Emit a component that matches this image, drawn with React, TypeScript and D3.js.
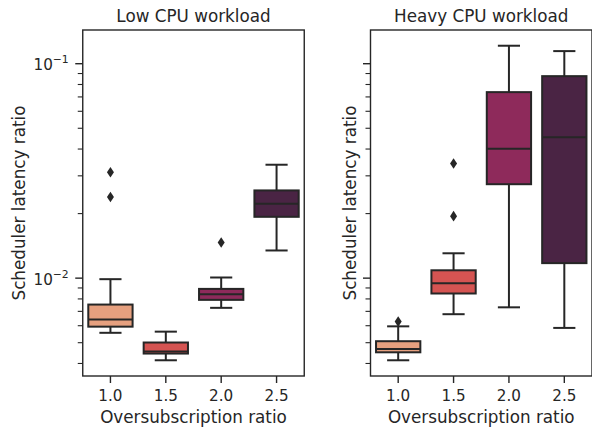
import React from "react";
import * as d3 from "d3";

const categories = ["1.0", "1.5", "2.0", "2.5"];
const palette = ["#E6A07F", "#D55452", "#8E2A5B", "#4A2444"];

// Low CPU workload
const lowWhiskerLo = [0.00556, 0.00414, 0.00727, 0.01346];
const lowQ1 = [0.00594, 0.00445, 0.00792, 0.01932];
const lowMedian = [0.00641, 0.004545, 0.00841, 0.02223];
const lowQ3 = [0.00753, 0.00501, 0.00891, 0.02565];
const lowWhiskerHi = [0.00989, 0.00563, 0.01007, 0.0338];
const lowOutliers = [[0.0312, 0.0239], [], [0.01466], []];

// Heavy CPU workload
const heavyWhiskerLo = [0.00414, 0.00679, 0.00731, 0.00586];
const heavyQ1 = [0.00451, 0.00848, 0.02742, 0.01175];
const heavyMedian = [0.004677, 0.00947, 0.0401, 0.04545];
const heavyQ3 = [0.00508, 0.01088, 0.0737, 0.0875];
const heavyWhiskerHi = [0.00596, 0.01306, 0.1213, 0.1145];
const heavyOutliers = [[0.00627], [0.03425, 0.01946], [], []];

const titles = ["Low CPU workload", "Heavy CPU workload"];
const xLabel = "Oversubscription ratio";
const yLabel = "Scheduler latency ratio";
const majorTicks = [0.01, 0.1];
const majorTickExp = ["−2", "−1"];

const W = 592;
const H = 428;
const TOP = 30;
const BOTTOM = 376;
const INK = "#262626";
const FONT = "DejaVu Sans, sans-serif";
const LABEL_FS = 16.8;
const TICK_FS = 15.2;

type Panel = {
  x0: number;
  x1: number;
  title: string;
  lo: number[];
  q1: number[];
  med: number[];
  q3: number[];
  hi: number[];
  out: number[][];
  showYTickLabels: boolean;
  yLabelX: number;
};

const panels: Panel[] = [
  { x0: 82.75, x1: 304.25, title: titles[0], lo: lowWhiskerLo, q1: lowQ1, med: lowMedian, q3: lowQ3, hi: lowWhiskerHi, out: lowOutliers, showYTickLabels: true, yLabelX: 24.5 },
  { x0: 370.5, x1: 592, title: titles[1], lo: heavyWhiskerLo, q1: heavyQ1, med: heavyMedian, q3: heavyQ3, hi: heavyWhiskerHi, out: heavyOutliers, showYTickLabels: false, yLabelX: 356 },
];

// shared y domain, matplotlib-style 5% margin in log space
const allVals = [
  ...lowWhiskerLo, ...lowWhiskerHi, ...lowOutliers.flat(),
  ...heavyWhiskerLo, ...heavyWhiskerHi, ...heavyOutliers.flat(),
];
const lmin = Math.log10(d3.min(allVals)!);
const lmax = Math.log10(d3.max(allVals)!);
const pad = (lmax - lmin) * 0.05;
const y = d3.scaleLog().domain([10 ** (lmin - pad), 10 ** (lmax + pad)]).range([BOTTOM, TOP]);

const minorTicks: number[] = [];
for (const dec of [0.001, 0.01]) {
  for (let k = 2; k <= 9; k++) {
    const v = k * dec;
    if (v >= y.domain()[0] && v <= y.domain()[1]) minorTicks.push(v);
  }
}

function PanelView({ p }: { p: Panel }) {
  const x = d3.scaleBand().domain(categories).range([p.x0, p.x1]).paddingInner(0).paddingOuter(0);
  const bw = x.bandwidth();
  const boxW = bw * 0.8;
  const capW = boxW * 0.5;
  const cx = (c: string) => (x(c) as number) + bw / 2;
  const midX = (p.x0 + p.x1) / 2;
  return (
    <g>
      {categories.map((c, i) => {
        const xc = cx(c);
        return (
          <g key={c}>
            <line x1={xc} x2={xc} y1={y(p.hi[i])} y2={y(p.q3[i])} stroke={INK} strokeWidth={2} />
            <line x1={xc} x2={xc} y1={y(p.q1[i])} y2={y(p.lo[i])} stroke={INK} strokeWidth={2} />
            <line x1={xc - capW / 2} x2={xc + capW / 2} y1={y(p.hi[i])} y2={y(p.hi[i])} stroke={INK} strokeWidth={2} />
            <line x1={xc - capW / 2} x2={xc + capW / 2} y1={y(p.lo[i])} y2={y(p.lo[i])} stroke={INK} strokeWidth={2} />
            <rect x={xc - boxW / 2} y={y(p.q3[i])} width={boxW} height={y(p.q1[i]) - y(p.q3[i])} fill={palette[i]} stroke={INK} strokeWidth={2} />
            <line x1={xc - boxW / 2} x2={xc + boxW / 2} y1={y(p.med[i])} y2={y(p.med[i])} stroke={INK} strokeWidth={2} />
            {p.out[i].map((v, j) => (
              <path key={j} d="M0,-5.3L3.5,0L0,5.3L-3.5,0Z" transform={`translate(${xc},${y(v)})`} fill={INK} />
            ))}
          </g>
        );
      })}
      {/* frame */}
      <rect x={p.x0} y={TOP} width={p.x1 - p.x0} height={BOTTOM - TOP} fill="none" stroke={INK} strokeWidth={1.4} />
      {/* x ticks */}
      {categories.map((c) => (
        <g key={c}>
          <line x1={cx(c)} x2={cx(c)} y1={BOTTOM} y2={BOTTOM + 7} stroke={INK} strokeWidth={1.4} />
          <text x={cx(c)} y={BOTTOM + 25} textAnchor="middle" fontSize={TICK_FS} fill={INK} fontFamily={FONT}>{c}</text>
        </g>
      ))}
      {/* y ticks */}
      {majorTicks.map((v, i) => (
        <g key={v}>
          <line x1={p.x0} x2={p.x0 - 7.5} y1={y(v)} y2={y(v)} stroke={INK} strokeWidth={1.4} />
          {p.showYTickLabels && (
            <text x={p.x0 - 14} y={y(v) + 6.5} textAnchor="end" fontSize={TICK_FS} fill={INK} fontFamily={FONT}>
              10<tspan fontSize={10.8} dy={-6.8}>{majorTickExp[i]}</tspan>
            </text>
          )}
        </g>
      ))}
      {minorTicks.map((v) => (
        <line key={v} x1={p.x0} x2={p.x0 - 5} y1={y(v)} y2={y(v)} stroke={INK} strokeWidth={1.1} />
      ))}
      <text x={midX} y={22} textAnchor="middle" fontSize={LABEL_FS} fill={INK} fontFamily={FONT}>{p.title}</text>
      <text x={midX} y={423} textAnchor="middle" fontSize={LABEL_FS} fill={INK} fontFamily={FONT}>{xLabel}</text>
      <text transform={`translate(${p.yLabelX},${(TOP + BOTTOM) / 2}) rotate(-90)`} textAnchor="middle" fontSize={LABEL_FS} fill={INK} fontFamily={FONT}>{yLabel}</text>
    </g>
  );
}

export default function App() {
  return (
    <svg width={W} height={H} style={{ position: "absolute", left: 0, top: 0, background: "#fff" }}>
      <rect width={W} height={H} fill="#fff" />
      {panels.map((p, i) => (
        <PanelView key={i} p={p} />
      ))}
    </svg>
  );
}
